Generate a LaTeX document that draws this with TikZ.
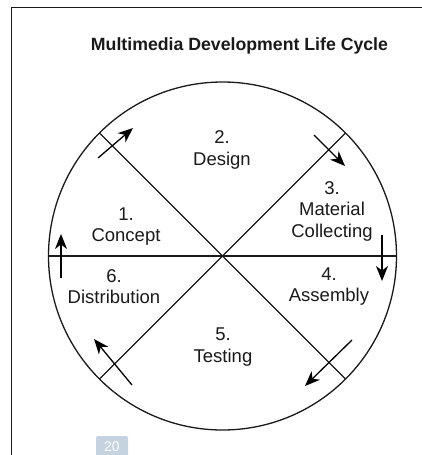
\documentclass[tikz,border=0pt]{standalone}
\usepackage{fontspec}
\setmainfont{Liberation Sans}
\usetikzlibrary{arrows.meta}
\definecolor{ink}{HTML}{1A1A1A}
\definecolor{badge}{HTML}{C5D3E0}
\begin{document}
\begin{tikzpicture}[x=1pt,y=-1pt,
  lbl/.style={align=center,text=ink,font=\fontsize{18.5}{21.5}\selectfont,inner sep=0pt},
  rim/.style={draw=ink,line width=1.3pt},
  flow/.style={draw=black,line width=1.3pt,-{Stealth[length=15pt,width=12pt,inset=4.5pt]}}]
\useasboundingbox (0,0) rectangle (422,455);
\fill[white] (0,0) rectangle (422,455);
% frame
\draw[draw=ink,line width=1.3pt] (422,7.5) -- (11.5,7.5) -- (11.5,455);
% title
\node[font=\bfseries\fontsize{17.7}{21}\selectfont,text=ink,inner sep=0pt] (title) at (239.5,46) {Multimedia Development Life Cycle};
% circle and spokes
\coordinate (c) at (222.5,256);
\draw[rim] (c) circle (174);
\coordinate (e) at (396.5,256);
\coordinate (w) at (48.5,256);
\draw[rim] (w) -- (e);
\draw[rim] (c) ++(45:174) coordinate (se) -- (c) -- ++(225:174) coordinate (nw);
\draw[rim] (c) ++(135:174) coordinate (sw) -- (c) -- ++(-45:174) coordinate (ne);
% labels
\node[lbl] (design) at (222,150) {2.\\Design};
\node[lbl] (material) at (332,211) {3.\\Material\\Collecting};
\node[lbl] (concept) at (126,226.5) {1.\\Concept};
\node[lbl] (distrib) at (114,286.5) {6.\\Distribution};
\node[lbl] (assembly) at (329,286.5) {4.\\Assembly};
\node[lbl] (testing) at (223,347) {5.\\Testing};
% arrows
\coordinate (a1s) at (98,158);  \coordinate (a1e) at (133,128);
\coordinate (a2s) at (314,135); \coordinate (a2e) at (345,166);
\coordinate (a3s) at (382,235); \coordinate (a3e) at (382,281);
\coordinate (a4s) at (352,340); \coordinate (a4e) at (305,386);
\coordinate (a5s) at (132,385); \coordinate (a5e) at (94,339);
\coordinate (a6s) at (61,278);  \coordinate (a6e) at (61,234);
\draw[flow] (a1s) -- (a1e);
\draw[flow] (a2s) -- (a2e);
\draw[flow] (a3s) -- (a3e);
\draw[flow] (a4s) -- (a4e);
\draw[flow] (a5s) -- (a5e);
\draw[flow] (a6s) -- (a6e);
% page badge
\fill[badge,rounded corners=2pt] (96,436) rectangle (128,458);
\node[text=white,font=\fontsize{14}{16}\selectfont,inner sep=0pt] (page) at (112,447) {20};
\end{tikzpicture}
\end{document}
